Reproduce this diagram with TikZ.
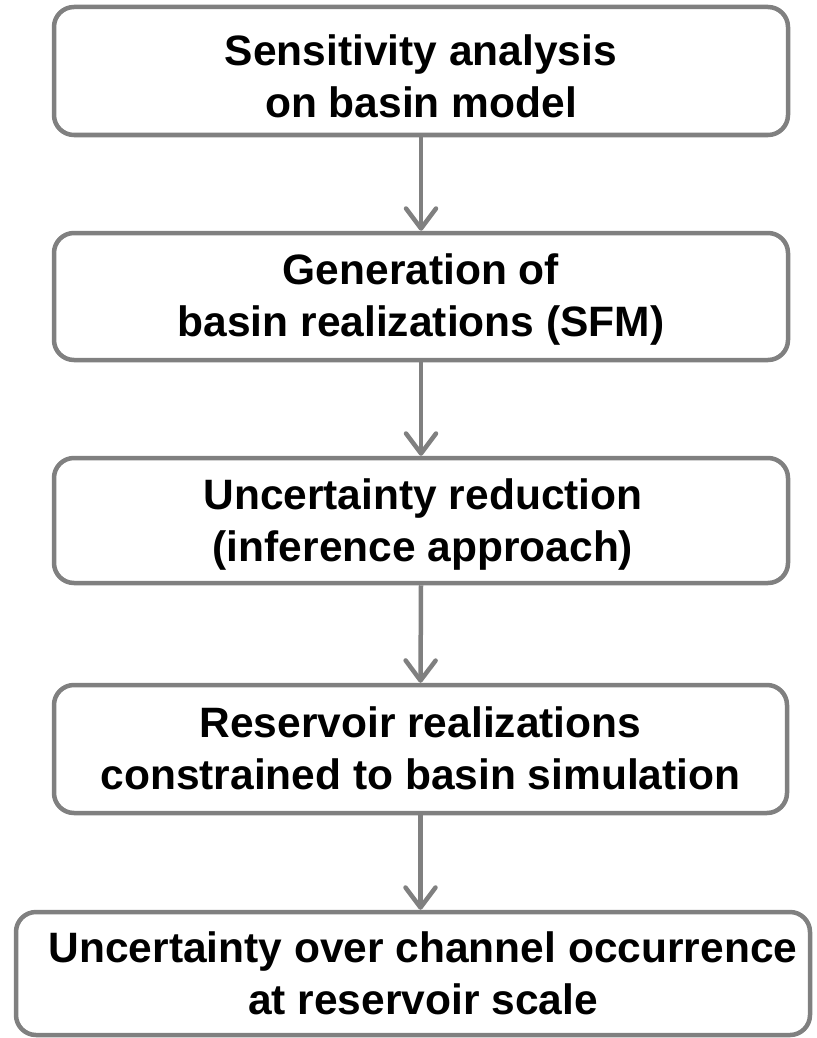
\documentclass[tikz,border=0pt]{standalone}
\usepackage{fontspec}
\setmainfont{Liberation Sans}
\usetikzlibrary{arrows.meta}
\definecolor{edgegray}{RGB}{128,128,128}
\begin{document}
\begin{tikzpicture}[x=1pt,y=-1pt,
  stagebox/.style={draw=edgegray, line width=4.5pt, rounded corners=20pt,
    inner sep=0pt},
  stagetext/.style={inner sep=0pt, align=center,
    font=\fontsize{42.5}{52}\selectfont\bfseries},
  flow/.style={draw=edgegray, line width=4.5pt,
    -{Straight Barb[length=20pt,width=30pt,line width=4.5pt,round]}}]
\useasboundingbox (0,0) rectangle (816,1038);
\node[stagebox, minimum width=734pt, minimum height=128pt] (b1) at (421,71) {};
\node[stagebox, minimum width=734pt, minimum height=127pt] (b2) at (421,296.5) {};
\node[stagebox, minimum width=734pt, minimum height=125pt] (b3) at (421,520.5) {};
\node[stagebox, minimum width=733pt, minimum height=128pt] (b4) at (420.5,749) {};
\node[stagebox, minimum width=794pt, minimum height=123pt] (b5) at (413,973.5) {};
\node[stagetext] (t1) at (421,76) {Sensitivity analysis\\on basin model};
\node[stagetext] (t2) at (421,300) {Generation of\\basin realizations (SFM)};
\node[stagetext] (t3) at (423,524.5) {Uncertainty reduction\\ (inference approach)};
\node[stagetext] (t4) at (420.5,748) {Reservoir realizations\\constrained to basin simulation};
\node[stagetext] (t5) at (423,973) {Uncertainty over channel occurrence\\at reservoir scale};
\draw[flow] (b1.south) -- (b2.north);
\draw[flow] (b2.south) -- (b3.north);
\draw[flow] (b3.south) -- (b4.north);
\draw[flow] (b4.south) -- (b4.south |- b5.north);
\end{tikzpicture}
\end{document}
